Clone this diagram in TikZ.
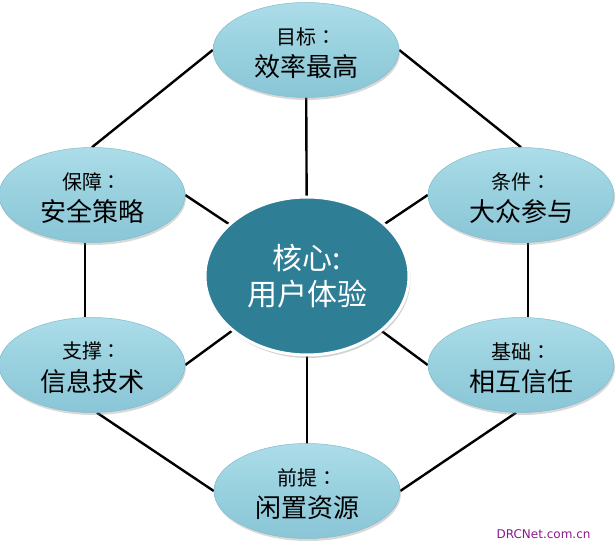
\documentclass[tikz,border=0pt]{standalone}
\usepackage{fontspec}
\newfontfamily\cjk{Noto Sans CJK SC}
\newfontfamily\cjktc{Noto Sans CJK TC}
\newfontfamily\wmfont{DejaVu Sans}
\usetikzlibrary{shapes.geometric,shadows,backgrounds,calc}
\definecolor{satTop}{HTML}{ACDDE9}
\definecolor{satMid}{HTML}{98D0DE}
\definecolor{satBot}{HTML}{8AC6D7}
\definecolor{satEdge}{HTML}{7FBCCD}
\definecolor{coreFill}{HTML}{2E7E96}
\definecolor{wmColor}{HTML}{8A1A8A}
\newcommand{\satlabel}[2]{\fontsize{20}{24}\selectfont\raisebox{-3pt}[\height][\depth]{#1{\cjktc ：}}\\[8pt]\fontsize{26}{30}\selectfont\raisebox{-3pt}[\height][\depth]{#2}}
\begin{document}
\begin{tikzpicture}[x=1pt,y=-1pt,
  sat/.style={ellipse, minimum width=186pt, minimum height=95pt, inner sep=0pt,
    top color=satTop, bottom color=satBot, middle color=satMid,
    draw=satEdge, line width=0.5pt,
    drop shadow={opacity=0.3, shadow xshift=1pt, shadow yshift=-2.5pt},
    align=center, text=black, font=\cjk},
  core/.style={ellipse, minimum width=204pt, minimum height=158pt, inner sep=0pt,
    fill=coreFill, draw=white, line width=3pt,
    drop shadow={opacity=0.35, shadow xshift=1.5pt, shadow yshift=-3pt},
    align=center, text=white, font=\cjk},
  link/.style={line width=2.4pt, draw=black},
]
\useasboundingbox (0,0) rectangle (616,545);

\node[core] (core) at (307,276) {\fontsize{30}{36}\selectfont 核心:\\[7pt]\fontsize{30}{36}\selectfont 用户体验};

\node[sat] (top) at (306,50) {\satlabel{目标}{效率最高}};
\node[sat] (bz) at (92,195) {\satlabel{保障}{安全策略}};
\node[sat] (tj) at (521,195) {\satlabel{条件}{大众参与}};
\node[sat] (zc) at (92,365) {\satlabel{支撑}{信息技术}};
\node[sat] (jc) at (521,365) {\satlabel{基础}{相互信任}};
\node[sat] (qt) at (307,491) {\satlabel{前提}{闲置资源}};

\node[text=wmColor, font=\wmfont\fontsize{12}{14}\selectfont, anchor=east] (wm) at (594,534) {DRCNet.com.cn};

\begin{scope}[on background layer]
  \fill[white] (0,0) rectangle (616,545);
  % outer hexagon
  \draw[link] (top.west) -- (bz.north);
  \draw[link] (top.east) -- (tj.north);
  \draw[link] ($(bz.south)+(-7,0)$) -- ($(zc.north)+(-7,0)$);
  \draw[link] ($(tj.south)+(7,0)$) -- ($(jc.north)+(7,0)$);
  \draw[link] ($(zc.south)+(5,0)$) -- (qt.west);
  \draw[link] ($(jc.south)+(-5,0)$) -- (qt.east);
  % spokes
  \draw[link] (top.center) -- (core.center);
  \draw[link] (qt.center) -- (core.center);
  \draw[link] (bz.east) -- (core.center);
  \draw[link] (zc.east) -- (core.center);
  \draw[link] (tj.west) -- (core.center);
  \draw[link] (jc.west) -- (core.center);
\end{scope}
\end{tikzpicture}
\end{document}
